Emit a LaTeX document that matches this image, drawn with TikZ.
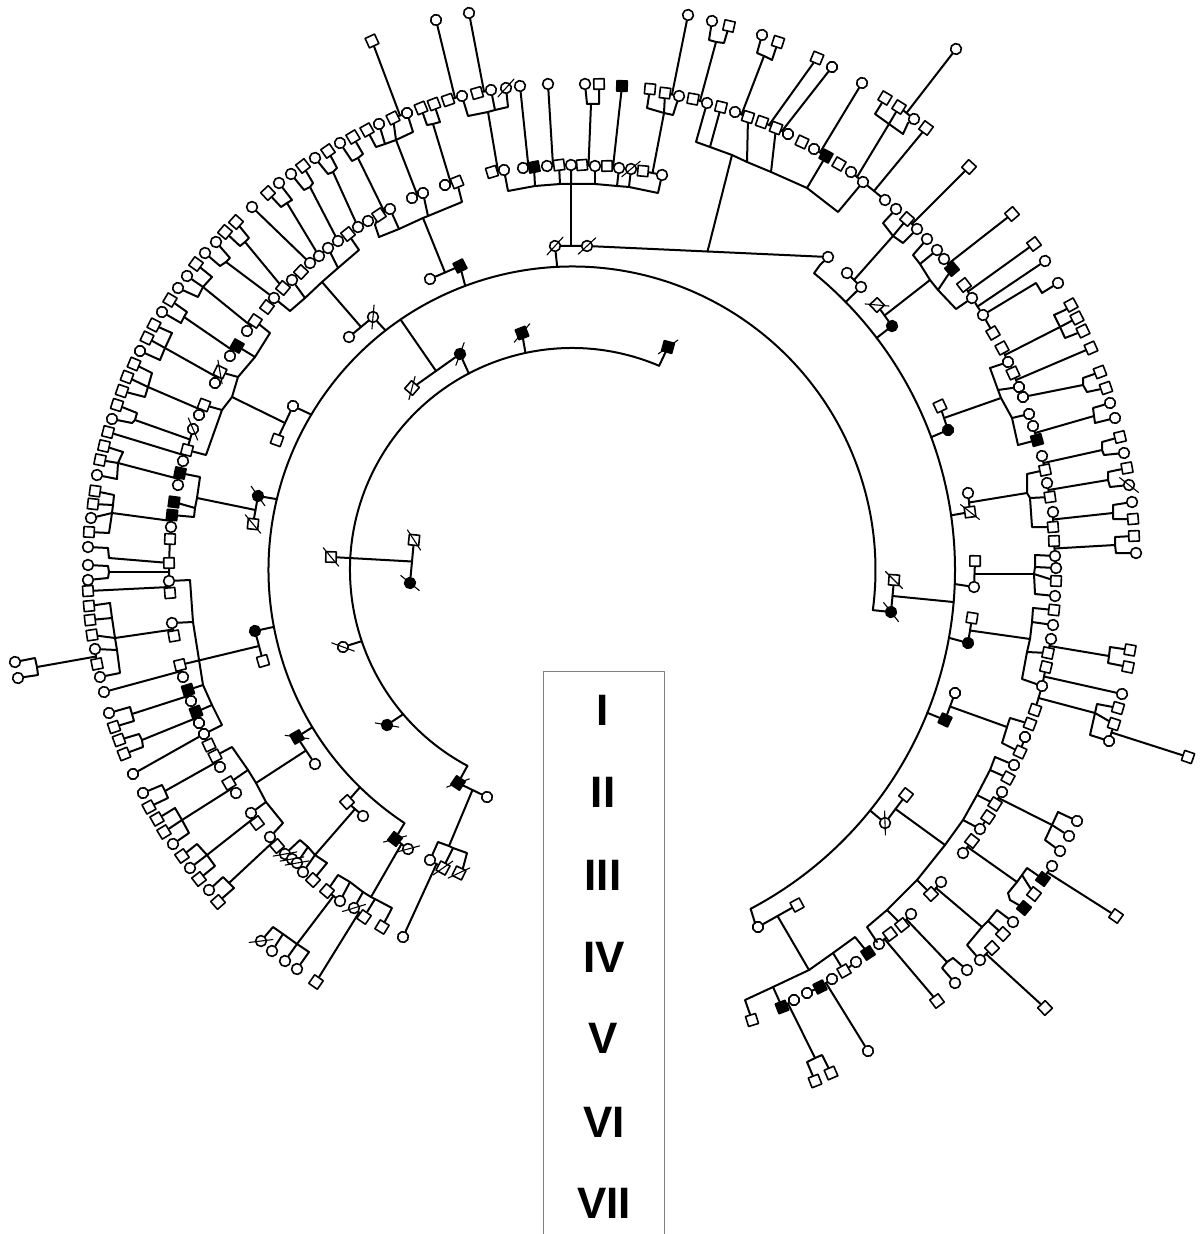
\documentclass[tikz,border=0pt]{standalone}
\usepackage{fontspec}
\setsansfont{Liberation Sans}
\usetikzlibrary{calc}
\tikzset{
  man/.style={draw, fill=white, rectangle, inner sep=0pt, minimum size=5.2pt, line width=.8pt},
  woman/.style={draw, fill=white, circle, inner sep=0pt, minimum size=5.4pt, line width=.8pt},
  sickman/.style={man, fill=black},
  sickwoman/.style={woman, fill=black},
  numeral/.style={font=\sffamily\bfseries\fontsize{22}{22}\selectfont, inner sep=0pt},
  slash/.style={line width=.55pt}
}
\begin{document}
\begin{tikzpicture}[x=0.5pt, y=-0.5pt, line width=1pt, line join=round, line cap=round]
\useasboundingbox (0,0) rectangle (1203,1234);

\foreach \n/\t/\x/\y in {
  g1/man/414/540, g2/sickwoman/410/583, g3/man/331/557,
  h1/sickman/668/347, h2/sickman/522/333, h3/sickwoman/460/354, h4/man/412/388,
  h5/woman/343/647, h6/sickwoman/387/725, h7/sickman/458/783, h8/woman/487/797,
  k1/woman/430/860, k2/man/443/868, k3/man/459/873, k4/woman/403/937,
  a1/man/393/118, a2/woman/379/124, a3/man/367/130, a4/man/353/137, a5/woman/340/143,
  a6/man/328/151, a7/woman/315/158, a8/man/303/166, a9/woman/291/174, a10/woman/279/183,
  a11/man/268/193, a12/woman/252/207, a13/man/236/222, a14/man/225/232, a15/woman/216/242,
  a16/woman/205/253, a17/man/196/264, a18/woman/187/276, a19/woman/178/288, a20/man/170/300,
  a21/woman/162/312, a22/man/154/325, a23/man/147/338, a24/woman/140/351, a25/man/134/364,
  a26/man/127/377, a27/man/122/391, a28/man/117/405, a29/woman/112/419, a30/man/108/432,
  a31/man/104/446, a32/man/100/460, a33/woman/97/475, a34/man/95/491, a35/man/93/504,
  a36/woman/91/518, a37/man/89/532, a38/woman/88/547, a39/woman/88/565, a40/woman/88/580,
  a41/man/88/591, a42/man/89/606, a43/man/90/620, a44/man/92/635, a45/woman/95/649,
  a46/man/97/664, a47/woman/100/677, a48/woman/104/692, a49/woman/15/662, a50/woman/18/678,
  a51/woman/109/713, a52/man/114/727, a53/man/119/740, a54/man/124/754, a55/woman/133/774,
  a56/woman/143/793, a57/man/149/807, a58/man/157/819, a59/man/164/832, a60/woman/173/844,
  a61/man/182/856, a62/woman/190/868, a63/man/199/879, a64/woman/209/890, a65/man/218/902,
  b1/man/267/307, b2/woman/274/298, b3/man/283/288, b4/woman/292/280, b5/man/301/272,
  b6/woman/310/263, b7/woman/319/256, b8/woman/328/248, b9/woman/338/241, b10/man/348/234,
  b11/woman/358/227, b12/woman/368/221, b13/man/379/215, b14/woman/390/209, b15/woman/412/198,
  b16/woman/423/193, b17/woman/445/185, b18/man/457/182,
  c1/man/255/321, c2/woman/247/331, c3/sickman/237/346, c4/woman/230/356, c5/man/220/372,
  c6/woman/215/383, c7/man/204/405, c8/woman/199/415, c9/woman/193/429, c10/man/187/450,
  c11/woman/183/461, c12/sickman/180/473, c13/woman/178/485, c14/sickman/174/502, c15/sickman/172/515,
  c16/woman/171/527, c17/man/170/539, c18/man/169/563, c19/woman/169/581, c20/man/170/593,
  c21/woman/172/623, c22/man/174/636, c23/man/180/665, c24/woman/183/677, c25/sickman/188/690,
  c26/woman/191/701, c27/sickman/196/712, c28/woman/199/723, c29/woman/204/734, c30/man/209/745,
  c31/man/215/756, c32/woman/220/767, c33/man/229/783, c34/woman/236/793, c35/woman/251/813,
  c36/man/257/823, c37/woman/270/837, c38/man/277/846, c39/woman/285/854, c40/woman/292/859,
  c41/woman/297/863, c42/woman/303/872, c43/man/313/880,
  d1/sickman/395/839, d2/woman/408/849, d3/man/347/802, d4/woman/363/816, d5/sickman/297/737,
  d6/woman/315/764, d7/sickwoman/255/631, d8/man/263/661, d9/sickwoman/258/496, d10/man/253/524,
  d11/woman/293/406, d12/man/277/440, d13/woman/373/317, d14/woman/349/337, d15/sickman/460/266,
  d16/woman/430/279, d17/woman/555/246, d18/woman/587/246, d19/man/894/580, d20/sickwoman/891/612,
  e1/man/327/891, e2/woman/340/901, e3/woman/354/908, e4/man/364/917, e5/man/382/927,
  e6/woman/261/941, e7/woman/272/951, e8/woman/285/961, e9/woman/297/969, e10/man/316/982,
  t1/woman/407/113, t2/man/421/108, t3/man/434/104, t4/man/448/100, t5/woman/462/96,
  t6/man/477/93, t7/woman/491/90, t8/woman/506/88, t9/woman/436/20, t10/woman/469/13, t11/man/372/41,
  u1/man/492/172, u2/woman/504/170, u3/woman/523/168, u4/sickman/534/167, u5/woman/547/166,
  u6/man/559/165, u7/woman/571/165, u8/man/582/165, u9/woman/595/166, u10/man/607/166,
  u11/woman/619/168, u12/woman/631/169, u13/man/643/171, u14/woman/662/175,
  v1/woman/520/86, v2/woman/548/84, v3/woman/585/84, v4/man/599/84, v5/sickman/622/86,
  v6/man/650/89, v7/man/665/93, v8/woman/679/96, v9/woman/688/15, v10/woman/712/21,
  v11/man/729/26, v12/woman/762/35, v13/man/778/42,
  w1/man/693/99, w2/woman/707/103, w3/man/721/107, w4/woman/735/112, w5/man/748/117,
  w6/man/762/122, w7/man/776/128, w8/woman/788/134, w9/man/802/142, w10/woman/814/149,
  w11/sickman/826/156, w12/man/839/164, w13/woman/851/172, w14/woman/863/182, w15/woman/885/200,
  w16/man/817/58, w17/woman/832/67, w18/woman/862/83, w19/man/885/98, w20/man/899/107,
  w21/woman/914/119, w22/woman/956/49, w23/man/926/128,
  r1/woman/828/257, r2/woman/847/273, r3/woman/861/287, r4/man/877/305, r5/sickwoman/892/326,
  r6/woman/896/209, r7/man/907/219, r8/woman/917/229, r9/man/969/167, r10/woman/927/239,
  r11/woman/937/250, r12/woman/944/259, r13/sickman/952/269, r14/man/964/285, r15/woman/972/298,
  r16/woman/983/315, r17/man/993/333, r18/man/1002/348, r19/woman/1008/362, r20/man/1013/373,
  r21/woman/1019/387, r22/woman/1023/397, r23/woman/1029/414, r24/woman/1033/426, r25/sickman/1037/440,
  r26/man/1012/214, r27/man/1034/244, r28/woman/1045/261, r29/woman/1058/283, r30/man/1071/305,
  r31/man/1077/318, r32/man/1083/331, r33/man/1091/348, r34/man/1100/372, r35/man/1106/388,
  r36/woman/1110/403, r37/woman/1115/418,
  s1/woman/1042/456, s2/man/1045/470, s3/woman/1047/483, s4/man/1050/497, s5/woman/1053/512,
  s6/man/1053/527, s7/man/1054/541, s8/woman/1055/556, s9/woman/1056/568, s10/man/1056/581,
  s11/woman/1055/596, s12/man/1054/610, s13/woman/1053/625, s14/woman/1051/639, s15/man/1048/653,
  s16/man/1046/667, s17/woman/1042/686, s18/man/1035/710, s19/man/1030/724, s20/woman/1025/737,
  s21/man/1020/752, s22/woman/1014/765, s23/man/1008/778, s24/woman/1002/792, s25/man/995/804,
  s26/woman/980/829, s27/man/988/817, s28/man/972/841, s29/woman/963/853,
  o1/man/1120/437, o2/woman/1124/453, o3/man/1127/468, o4/woman/1129/485, o5/woman/1132/502,
  o6/man/1133/519, o7/man/1134/536, o8/woman/1136/553, o9/man/1130/650, o10/man/1128/667,
  o11/woman/1122/694, o12/man/1118/708, o13/man/1114/724, o14/woman/1109/741, o15/man/1188/757,
  n1/man/940/406, n2/sickwoman/948/430, n3/woman/968/493, n4/man/970/512, n5/man/975/561,
  n6/woman/974/587, n7/man/972/618, n8/sickwoman/968/643, n9/woman/955/693, n10/sickman/945/720,
  n11/woman/885/823, n12/man/906/795, n13/woman/758/927, n14/man/797/905,
  y1/man/752/1020, y2/sickman/782/1007, y3/woman/794/1000, y4/woman/807/993, y5/sickman/820/987,
  y6/woman/832/979, y7/man/844/971, y8/woman/856/962, y9/sickman/868/953, y10/woman/879/944,
  y11/man/890/934, y12/man/902/925, y13/woman/911/914, y14/man/931/894, y15/woman/941/882,
  y16/woman/868/1051, y17/man/815/1081, y18/man/831/1073, y19/man/937/1001, y20/woman/955/983,
  y21/woman/967/970, y22/woman/980/960, y23/man/992/948, y24/man/1003/934, y25/woman/1013/922,
  y26/man/1045/1008, y27/sickman/1024/908, y28/man/1034/894, y29/sickman/1043/879, y30/woman/1052/866,
  y31/man/1116/916, y32/woman/1077/821, y33/woman/1069/836, y34/woman/1060/851%
}{
  \pgfmathsetmacro\turn{-atan2(\y-560,\x-610)}
  \node[\t, rotate=\turn] (\n) at (\x,\y) {};
}

\foreach \n/\a in {
  g1/57, g2/39, g3/50, h1/-35, h2/-50, h3/-70, h4/-75, h5/20, h6/10, h7/-20, k2/-35, k3/-25,
  d1/-15, d2/-15, d5/8, d9/55, d10/50, d13/-85, d17/-48, d18/-43, d19/45, d20/52, c5/80, c9/67,
  c39/-10, c40/-10, c41/-10, e3/-17, e6/-7, t8/-48, u12/-40, r4/5, n4/38, o4/38, n11/88%
}{
  \draw[slash] (\n.center) ++(\a:12) -- ++(\a+180:24);
}

\coordinate (mid) at (572,570);
\foreach \n/\a/\r in {
  i0/293.1/222, i1/-102.1/222, i2/-117.7/222, i3/161.3/222, i4/139.5/222, i5/118.1/222,
  A0/123.5/303.5, A1/134.3/303.5, A2/148.8/303.5, A3/169.2/303.5, A4/193.5/303.5, A5/210.8/303.5,
  A6/232.1/303.5, A7/235.6/303.5, A8/249.4/303.5, A9/267.2/303.5, A10/7.6/303.5,
  B0/-50.8/383, B1/-44.4/383, B2/-37.3/383, B3/-20.3/383, B4/-8.2/383, B5/2.1/383, B6/4.8/383,
  B7/10.2/383, B8/21.9/383, B9/38.9/383, B10/62.2/383%
}{
  \coordinate (\n) at ($(mid)+(\a:\r)$);
}

\draw (i5) arc[start angle=118.1, end angle=293.1, radius=222];
\draw (A0) arc[start angle=123.5, end angle=367.6, radius=303.5];
\draw (B0) arc[start angle=-50.8, end angle=62.2, radius=383];
\draw (r1) -- (820,265) -- (B0);
\draw (B10) -- (755,923) -- (n13);

\draw (a3) -- (376,147) -- (385,144) coordinate (j1) -- (396,140) coordinate (j2) -- (413,132) -- (t1);
\draw (t2) -- (427,125) -- (433,124) coordinate (j3) -- (440,122) -- (t3);
\draw (a5) -- (352,161) -- (358,158) coordinate (j4) -- (363,154) -- (a4);
\draw (a7) -- (328,174) -- (333,172) coordinate (j5) -- (337,168) -- (a6);
\draw (a9) -- (304,190) -- (310,187) coordinate (j6) -- (313,183) -- (a8);
\draw (a11) -- (281,207) -- (287,203) coordinate (j7) -- (292,200) -- (a10);
\draw (a14) -- (240,246) -- (245,242) coordinate (j8) -- (249,238) -- (a13);
\draw (a16) -- (220,266) -- (226,262) coordinate (j9) -- (230,258) -- (a15);
\draw (a17) -- (212,277) -- (203,287) coordinate (j10) -- (198,297) -- (a19);
\draw (a20) -- (187,312) -- (184,317) coordinate (j11) -- (181,323) -- (a21);
\draw (a22) -- (172,333) -- (165,348) coordinate (j12) -- (160,360) -- (a24);
\draw (a25) -- (152,373) -- (148,387) coordinate (j13) -- (145,397) -- (a27);
\draw (a28) -- (137,413) -- (135,420) coordinate (j14) -- (132,423) -- (a29);
\draw (a31) -- (123,452) -- (118,463) coordinate (j15) -- (117,479) -- (a33);
\draw (a34) -- (114,495) -- (113,505) coordinate (j17) -- (112,513) coordinate (j16) -- (109,533) -- (a37);
\draw (a39) -- (108,566) -- (109,572) coordinate (j18) -- (108,578) -- (a40);
\draw (c18) -- (109,558) -- (108,548) -- (a38);
\draw (a42) -- (110,603) -- (112,618) coordinate (j19) -- (115,638) coordinate (j20) -- (117,650) coordinate (j21) -- (120,673) -- (a47);
\draw (a49) -- (35,658) -- (37,667) coordinate (j22) -- (38,675) -- (a50);
\draw (a51) -- (130,707) -- (132,714) coordinate (j23) -- (134,721) -- (a52);
\draw (a53) -- (139,734) -- (142,740) coordinate (j24) -- (143,747) -- (a54);
\draw (a56) -- (162,785) -- (165,791) coordinate (j25) -- (168,798) -- (a57);
\draw (a58) -- (175,808) -- (182,820) coordinate (j26) -- (189,833) -- (a60);
\draw (a61) -- (197,844) -- (207,855) coordinate (j27) -- (215,866) -- (a63);
\draw (a64) -- (223,877) -- (229,883) coordinate (j28) -- (234,888) -- (a65);
\draw (b2) -- (290,311) -- (305,298) coordinate (j29) -- (322,282) coordinate (j30) -- (338,268) coordinate (j31) -- (359,250) -- (b10);
\draw (b13) -- (375,225) -- (379,237) -- (399,229) coordinate (j32) -- (423,218) coordinate (j33) -- (428,216) coordinate (j34) -- (462,202) -- (b18);
\draw (c1) -- (270,333) -- (255,357) coordinate (j35) -- (238,377) coordinate (j36) -- (232,397) coordinate (j37) -- (222,410) coordinate (j38) -- (206,455) -- (c10);
\draw (c12) -- (200,477) -- (197,498) coordinate (j39) -- (195,508) coordinate (j40) -- (194,517) -- (c15);
\draw (c19) -- (190,580) -- (193,622) coordinate (j41) -- (203,685) coordinate (j42) -- (212,705) coordinate (j43) -- (222,725) -- (c29);
\draw (c31) -- (232,747) -- (248,770) coordinate (j44) -- (256,783) coordinate (j45) -- (266,802) coordinate (j46) -- (283,823) -- (c37);
\draw (c39) -- (300,840) -- (308,847) coordinate (j47) -- (315,855) coordinate (j48) -- (327,863) -- (c43);
\draw (k1) -- (438,842) -- (449,846) coordinate (j49) -- (453,848) coordinate (j50) -- (467,853) -- (463,868) -- (k3);
\draw (e1) -- (338,875) -- (350,882) coordinate (j51) -- (363,892) coordinate (j52) -- (371,897) coordinate (j53) -- (375,899) coordinate (j54) -- (392,908) -- (e5);
\draw (e6) -- (273,927) -- (283,934) coordinate (j55) -- (297,944) coordinate (j56) -- (309,952) -- (e9);
\draw (t5) -- (468,116) -- (488,112) coordinate (j57) -- (495,110) coordinate (j58) -- (508,107) -- (t8);
\draw (u2) -- (508,191) -- (535,186) coordinate (j59) -- (560,184) coordinate (j60) -- (571,184) coordinate (j61) -- (595,184) coordinate (j62) -- (617,186) coordinate (j63) -- (629,187) coordinate (j64) -- (658,193) -- (u14);
\draw (v3) -- (587,104) -- (591,104) coordinate (j65) -- (599,104) -- (v4);
\draw (v6) -- (647,108) -- (664,113) coordinate (j66) -- (673,115) -- (v8);
\draw (v10) -- (709,40) -- (716,42) coordinate (j67) -- (724,43) -- (v11);
\draw (v12) -- (757,53) -- (764,56) coordinate (j68) -- (772,60) -- (v13);
\draw (w2) -- (696,142) -- (710,147) coordinate (j69) -- (732,155) coordinate (j70) -- (747,162) coordinate (j71) -- (771,172) coordinate (j72) -- (807,188) coordinate (j73) -- (838,212) -- (w14);
\draw (w19) -- (875,114) -- (889,124) coordinate (j74) -- (903,134) -- (908,123) -- (w21);
\draw (r6) -- (883,223) -- (893,236) coordinate (j75) -- (903,243) -- (r8);
\draw (r10) -- (913,255) -- (920,264) coordinate (j76) -- (930,280) coordinate (j77) -- (938,290) coordinate (j78) -- (956,309) -- (r15);
\draw (r16) -- (1036,283) -- (1042,293) -- (r29);
\draw (r30) -- (1065,310) -- (1054,315) -- (1060,327) coordinate (j79) -- (1065,338) -- (r32);
\draw (r19) -- (990,368) -- (998,390) coordinate (j80) -- (1001,398) coordinate (j81) -- (1012,418) coordinate (j82) -- (1018,445) -- (r25);
\draw (r34) -- (1083,378) -- (1083,385) coordinate (j83) -- (1087,392) -- (r35);
\draw (r36) -- (1093,408) -- (1094,416) coordinate (j84) -- (1095,423) -- (r37);
\draw (s2) -- (1027,474) -- (1027,493) coordinate (j85) -- (1030,498) coordinate (j86) -- (1032,527) -- (s6);
\draw (s8) -- (1035,555) -- (1035,567) coordinate (j87) -- (1034,574) coordinate (j88) -- (1035,594) -- (s11);
\draw (s12) -- (1033,608) -- (1032,622) coordinate (j89) -- (1030,639) coordinate (j90) -- (1027,652) coordinate (j91) -- (1022,679) -- (s17);
\draw (o1) -- (1102,442) -- (1102,450) coordinate (j94) -- (1104,455) -- (o2);
\draw (o3) -- (1108,472) -- (1108,480) coordinate (j95) -- (1110,487) -- (o4);
\draw (o5) -- (1113,505) -- (1113,513) coordinate (j96) -- (1113,519) -- (o6);
\draw (o7) -- (1115,537) -- (1115,545) coordinate (j97) -- (1116,553) -- (o8);
\draw (o9) -- (1110,647) -- (1109,656) coordinate (j92) -- (1108,663) -- (o10);
\draw (o12) -- (1097,704) -- (1095,713) coordinate (j93) -- (1090,735) -- (o14);
\draw (s19) -- (1010,718) -- (1007,727) coordinate (j98) -- (1002,743) -- (s21);
\draw (s22) -- (995,757) -- (990,770) coordinate (j99) -- (977,795) coordinate (j100) -- (963,820) coordinate (j101) -- (945,845) coordinate (j102) -- (917,880) coordinate (j103) -- (887,910) coordinate (j104) -- (867,927) -- (877,942) -- (y10);
\draw (y32) -- (1058,812) -- (1052,825) coordinate (j105) -- (1045,840) -- (y34);
\draw (y27) -- (1010,900) -- (1008,893) -- (1017,882) coordinate (j106) -- (1022,875) coordinate (j107) -- (1027,868) -- (y29);
\draw (y22) -- (967,945) -- (982,927) coordinate (j108) -- (988,921) coordinate (j109) -- (997,910) -- (y25);
\draw (y1) -- (745,1000) -- (773,987) coordinate (j110) -- (809,970) coordinate (j111) -- (833,953) coordinate (j112) -- (855,937) -- (y9);
\draw (y17) -- (807,1062) -- (815,1058) coordinate (j113) -- (822,1055) -- (y18);
\draw (y20) -- (942,968) -- (947,962) coordinate (j114) -- (953,958) -- (y21);

\foreach \a/\b/\e in {
  g1/g2/g3, h3/h4/A7, h7/h8/j49, k1/k2/k4,
  a1/t1/t11, b15/b16/j2, b17/b18/j3, b13/b14/j4, c1/c2/j10, c3/c4/j11, c5/c6/j12, c7/c8/j13,
  c9/c10/j14, c10/c11/a30, c12/c13/j15, c15/c16/j16, c18/c19/j18, c19/c20/a41, c21/c22/j20,
  a45/a46/j22, c25/c26/j23, c27/c28/j24, c23/c24/a48, c31/c32/j25, c33/c34/j26, c35/c36/j27,
  c37/c38/j28, d13/d14/j30, d15/d16/j33, d11/d12/j37, d9/d10/j39, d7/d8/c23, d5/d6/j45,
  d3/d4/j48, d1/d2/j53, e1/e2/j56, e3/e4/e10,
  t4/t5/t9, t6/t7/t10, u1/u2/j57, d17/d18/j61, u8/u9/j65, u3/u4/v1, u5/u6/v2, u10/u11/v5,
  u13/u14/j66, v7/v8/v9, w1/w2/j67, w4/w5/j68, d18/r1/j70, w6/w7/w16, w7/w8/w17, w10/w11/w18,
  w13/w14/j74, w20/w21/w22, w14/w15/w23, r2/r3/j75, r7/r8/r9, r4/r5/j77, r12/r13/r26,
  r14/r15/r27, r15/r16/r28, r18/r19/j79, r20/r21/r33, n1/n2/j81, r24/r25/j84, n3/n4/j85,
  n5/n6/j88, n7/n8/j90, s14/s15/j92, s16/s17/o11, s17/s18/j93, s1/s2/j94, s3/s4/j95, s5/s6/j96,
  s7/s8/j97, o13/o14/o15, n9/n10/j98, n11/n12/j102, s24/s25/j105, s28/s29/j106, y29/y30/y31,
  y14/y15/j108, y22/y23/y26, n13/n14/j111, y2/y3/j113, y5/y6/y16, y12/y13/j114, y10/y11/y19,
  d19/d20/B6%
}{
  \draw (\a) -- (\b);
  \draw ($(\a)!.5!(\b)$) -- (\e);
}

\foreach \a/\b in {
  i0/h1, i1/h2, i2/h3, i3/h5, i4/h6, i5/h7,
  A0/d1, A1/d3, A2/d5, A3/d7, A4/d9, A5/d11, A6/d13, A8/d15, A9/d17, A10/d20,
  B1/r3, B2/r5, B3/n2, B4/n4, B5/n6, B7/n8, B8/n10, B9/n11,
  j1/a2, j2/a1, j5/b11, j6/b9, j7/b7, j8/b3, j9/b2, a12/b6, j10/a18, j12/a23, j13/a26,
  j15/a32, j16/a36, j17/a35, j19/a43, j20/a44, j21/a45, c17/c18, c29/a55, j26/a59, j27/a62,
  j29/b4, j31/b8, b1/b2, j32/b14, j34/b16, j35/c3, j36/c5, j38/c7, j40/c14,
  j41/c21, j42/c25, j43/c27, j44/c33, j46/c35, j47/c41, j48/c42, j50/k2,
  j51/e2, j52/e3, j54/e4, j55/e7, j56/e8, j58/t7,
  j59/u4, j60/u6, j61/u7, j62/u9, j63/u11, j64/u12, j66/v7, j69/w3, j71/w5, j72/w7, j73/w11, j74/w20,
  j75/r7, j76/r11, j78/r13, r16/r17, j79/r31, j80/r21, j82/r23, r21/r22, r22/j83,
  j86/s4, j87/s9, j88/s10, j89/s13, j91/s15, j93/o13, s20/s21,
  j99/s23, j100/s25, j101/s26, j103/y14, j104/y12, s26/s27, j105/y33, j107/y28, j109/y24,
  j110/y2, j112/y7, y4/y5, y7/y8%
}{
  \draw (\a) -- (\b);
}

\draw[gray, line width=.5pt] (543,1234) -- (543,671) -- (664,671) -- (664,1234);
\node[numeral] (gen1) at (603,710) {I};
\node[numeral] (gen2) at (603,792) {II};
\node[numeral] (gen3) at (603,875) {III};
\node[numeral] (gen4) at (604,957) {IV};
\node[numeral] (gen5) at (603,1038) {V};
\node[numeral] (gen6) at (604,1122) {VI};
\node[numeral] (gen7) at (604,1203) {VII};
\end{tikzpicture}
\end{document}
